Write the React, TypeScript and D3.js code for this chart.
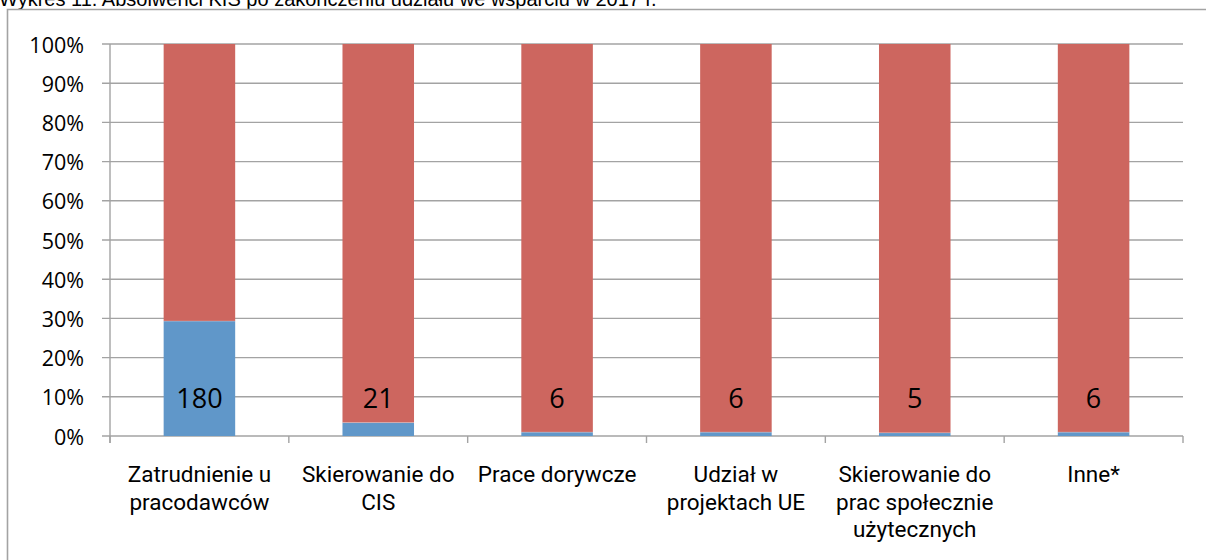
import React from "react";
import * as d3 from "d3";

const title = "Wykres 11. Absolwenci KIS po zakończeniu udziału we wsparciu w 2017 r.";
const categories = [
  ["Zatrudnienie u", "pracodawców"],
  ["Skierowanie do", "CIS"],
  ["Prace dorywcze"],
  ["Udział w", "projektach UE"],
  ["Skierowanie do", "prac społecznie", "użytecznych"],
  ["Inne*"],
];
const seriesA = [180, 21, 6, 6, 5, 6];
const seriesB = [434, 593, 608, 608, 609, 608];
const yTicks = [0, 0.1, 0.2, 0.3, 0.4, 0.5, 0.6, 0.7, 0.8, 0.9, 1];
const labelLevel = 0.097;

const W = 1206;
const H = 560;
const plotL = 110;
const plotR = 1183;
const plotT = 44;
const plotB = 436;
const FONT = "'Open Sans', sans-serif";
const CAT_FONT = "Roboto, 'Open Sans', sans-serif";
const BLUE = "#6097c9";
const RED = "#cd665f";
const GRID = "#a3a3a3";

export default function App() {
  const keys = categories.map((_, i) => String(i));
  const x = d3.scaleBand<string>().domain(keys).range([plotL, plotR]).paddingInner(0.6).paddingOuter(0.3);
  const y = d3.scaleLinear().domain([0, 1]).range([plotB, plotT]);
  const step = x.step();
  const bounds = d3.range(categories.length + 1).map((i) => plotL + i * step);

  const rows = keys.map((k, i) => {
    const total = seriesA[i] + seriesB[i];
    return { k, a: seriesA[i] / total, b: seriesB[i] / total, v: seriesA[i], lines: categories[i] };
  });

  return (
    <svg width={W} height={H} style={{ position: "absolute", left: 0, top: 0, background: "#fff" }}>
      <rect x={0} y={0} width={W} height={H} fill="#fff" />
      <text x={-1} y={6} fontFamily="'Liberation Sans', Arial, sans-serif" fontSize={20} fill="#000">
        {title}
      </text>
      <path d={`M7.5,${H + 5}V9.5H${W + 5}`} fill="none" stroke={GRID} strokeWidth={1.6} />

      {yTicks.map((t) => (
        <g key={t}>
          <line x1={102} x2={plotR} y1={y(t)} y2={y(t)} stroke={GRID} strokeWidth={1.4} />
          <text
            x={84}
            y={y(t)}
            textAnchor="end"
            dominantBaseline="central"
            fontFamily={FONT}
            fontSize={21.5}
            fill="#000"
          >
            {d3.format(".0%")(t)}
          </text>
        </g>
      ))}
      <line x1={plotL} x2={plotL} y1={plotT} y2={plotB + 7} stroke={GRID} strokeWidth={1.4} />
      {bounds.map((bx, i) => (
        <line key={i} x1={bx} x2={bx} y1={plotB} y2={plotB + 7} stroke={GRID} strokeWidth={1.4} />
      ))}

      {rows.map((r) => (
        <g key={r.k}>
          <rect x={x(r.k)} width={x.bandwidth()} y={y(r.a)} height={y(0) - y(r.a)} fill={BLUE} />
          <rect x={x(r.k)} width={x.bandwidth()} y={y(1)} height={y(r.a) - y(1)} fill={RED} />
          <line x1={x(r.k)} x2={(x(r.k) as number) + x.bandwidth()} y1={y(r.a)} y2={y(r.a)} stroke="#fff" strokeOpacity={0.4} strokeWidth={0.6} />
          <text
            x={(x(r.k) as number) + x.bandwidth() / 2}
            y={y(labelLevel)}
            textAnchor="middle"
            dominantBaseline="central"
            fontFamily={FONT}
            fontSize={27}
            fill="#000"
          >
            {r.v}
          </text>
          {r.lines.map((ln, j) => (
            <text
              key={j}
              x={(x(r.k) as number) + x.bandwidth() / 2}
              y={482 + j * 27.5}
              textAnchor="middle"
              fontFamily={CAT_FONT}
              fontSize={22.5}
              fill="#000"
            >
              {ln}
            </text>
          ))}
        </g>
      ))}
    </svg>
  );
}
